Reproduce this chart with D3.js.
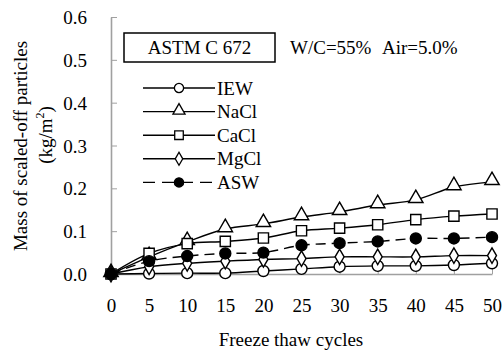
<!DOCTYPE html>
<html>
<head>
<meta charset="utf-8">
<script src="https://cdn.jsdelivr.net/npm/d3@7"></script>
<style>
  body { margin: 0; background: #fff; }
  .serif { font-family: 'Times New Roman'; font-size: 19px; }
</style>
</head>
<body>
<div id="chart"></div>
<script>
// Data
const cycles = [0, 5, 10, 15, 20, 25, 30, 35, 40, 45, 50];
const iew  = [0, 0.001, 0.002, 0.002, 0.007, 0.012, 0.017, 0.019, 0.019, 0.021, 0.025];
const nacl = [0, 0.040, 0.075, 0.105, 0.117, 0.133, 0.145, 0.161, 0.173, 0.203, 0.215];
const cacl = [0, 0.048, 0.071, 0.076, 0.084, 0.101, 0.107, 0.115, 0.127, 0.135, 0.140];
const mgcl = [0, 0.017, 0.025, 0.030, 0.034, 0.036, 0.040, 0.040, 0.040, 0.043, 0.043];
const asw  = [0, 0.030, 0.042, 0.048, 0.050, 0.067, 0.072, 0.076, 0.083, 0.083, 0.086];
const seriesNames = ["IEW", "NaCl", "CaCl", "MgCl", "ASW"];
const yTicks = [0, 0.1, 0.2, 0.3, 0.4, 0.5, 0.6];

const series = [
    { name: "IEW", values: iew, shape: "circle", fill: "#fff", dash: null },
    { name: "NaCl", values: nacl, shape: "triangle", fill: "#fff", dash: null },
    { name: "CaCl", values: cacl, shape: "square", fill: "#fff", dash: null },
    { name: "MgCl", values: mgcl, shape: "diamond", fill: "#fff", dash: null },
    { name: "ASW", values: asw, shape: "circle", fill: "#000", dash: "10,6" }
];

const width = 503, height = 355;
const margin = { top: 17, right: 11, bottom: 81, left: 111 };
const serif = "Times New Roman";
const fs = "19px";

// set the serif font on a text selection
function serifText(sel) {
    return sel.attr("class", "serif").attr("font-family", serif)
        .style("font-family", `'${serif}'`).style("font-size", fs);
}
// shift start-anchored text so it reads as centered / right-aligned
function anchor(sel, mode) {
    sel.each(function () {
        const el = d3.select(this);
        const w = this.getComputedTextLength();
        const x0 = +el.attr("x") || 0;
        el.attr("text-anchor", "start").attr("x", mode === "middle" ? x0 - w / 2 : x0 - w);
    });
}

const svg = d3.select("#chart").append("svg").attr("width", width).attr("height", height)
    .attr("font-family", serif);

const x = d3.scaleLinear().domain([0, 50]).range([margin.left, width - margin.right]);
const y = d3.scaleLinear().domain([0, 0.6]).range([height - margin.bottom, margin.top]);

// Axes
const xAxis = svg.append("g").attr("transform", `translate(0,${height - margin.bottom})`)
    .call(d3.axisBottom(x).tickValues(cycles).tickSizeInner(-5).tickSizeOuter(0).tickPadding(25));
const yAxis = svg.append("g").attr("transform", `translate(${margin.left},0)`)
    .call(d3.axisLeft(y).tickValues(yTicks).tickFormat(d3.format(".1f")).tickSizeInner(-6).tickSizeOuter(0).tickPadding(24));

[xAxis, yAxis].forEach(g => {
    g.attr("font-family", serif).attr("font-size", null).attr("text-anchor", null);
    g.select(".domain").attr("stroke", "#a0a0a0").attr("stroke-width", 1.6);
    g.selectAll(".tick line").attr("stroke", "#a0a0a0").attr("stroke-width", 1);
    serifText(g.selectAll(".tick text").attr("fill", "#000"));
});
yAxis.selectAll(".tick text").attr("dy", "0.35em");
anchor(xAxis.selectAll(".tick text"), "middle");
anchor(yAxis.selectAll(".tick text"), "end");

// Marker shapes
const symbolFor = {
    circle: d3.symbolCircle,
    triangle: d3.symbolTriangle,
    square: d3.symbolSquare,
    diamond: d3.symbolDiamond
};
const sizeFor = { circle: 95, triangle: 90, square: 105, diamond: 70 };

const line = d3.line().x((d, i) => x(cycles[i])).y(d => y(d)).curve(d3.curveCatmullRom.alpha(0.5));

// Lines
series.forEach(s => {
    svg.append("path").datum(s.values)
        .attr("fill", "none")
        .attr("stroke", "#000")
        .attr("stroke-width", 1.4)
        .attr("stroke-dasharray", s.dash)
        .attr("d", line);
});

// Markers
series.forEach(s => {
    svg.append("g").selectAll("path").data(s.values).enter().append("path")
        .attr("transform", (d, i) => {
            const dy = s.shape === "triangle" ? -1.5 : 0;
            return `translate(${x(cycles[i])},${y(d) + dy})`;
        })
        .attr("d", d3.symbol().type(symbolFor[s.shape]).size(sizeFor[s.shape]))
        .attr("fill", s.fill)
        .attr("stroke", "#000")
        .attr("stroke-width", 1.4);
});

// Box label
svg.append("rect").attr("x", 124).attr("y", 33).attr("width", 151).attr("height", 29)
    .attr("fill", "#fff").attr("stroke", "#000").attr("stroke-width", 1.5);
const boxText = serifText(svg.append("text").attr("x", 199.5).attr("y", 54)).text("ASTM C 672");
anchor(boxText, "middle");
serifText(svg.append("text").attr("x", 290).attr("y", 54)).text("W/C=55%");
serifText(svg.append("text").attr("x", 382).attr("y", 54)).text("Air=5.0%");

// Legend
const legend = svg.append("g");
series.forEach((s, i) => {
    const ly = 88 + i * 23.6;
    legend.append("line").attr("x1", 143).attr("x2", 215).attr("y1", ly).attr("y2", ly)
        .attr("stroke", "#000").attr("stroke-width", 1.4)
        .attr("stroke-dasharray", s.dash ? "12,7" : null);
    legend.append("path")
        .attr("transform", `translate(179,${ly + (s.shape === "triangle" ? -1 : 0)})`)
        .attr("d", d3.symbol().type(symbolFor[s.shape]).size(sizeFor[s.shape] * 0.7))
        .attr("fill", s.fill).attr("stroke", "#000").attr("stroke-width", 1.3);
    serifText(legend.append("text").attr("x", 217).attr("y", ly).attr("dy", "0.35em"))
        .text(seriesNames[i]);
});

// Axis titles
const xTitle = serifText(svg.append("text").attr("x", 291).attr("y", 346)).text("Freeze thaw cycles");
anchor(xTitle, "middle");
const yTitle = serifText(svg.append("text").attr("transform", "translate(27,146) rotate(-90)"))
    .text("Mass of scaled-off particles");
anchor(yTitle, "middle");
const unit = serifText(svg.append("text").attr("transform", "translate(52,135) rotate(-90)"));
unit.append("tspan").text("(kg/m");
unit.append("tspan").attr("dy", "-8").style("font-size", "12px").text("2");
unit.append("tspan").attr("dy", "8").text(")");
anchor(unit, "middle");
</script>
</body>
</html>
